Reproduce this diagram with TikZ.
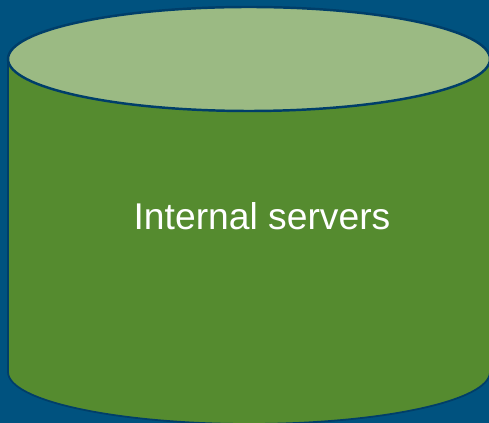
\documentclass[tikz,border=0pt]{standalone}
\usepackage{fontspec}
\setmainfont{Liberation Sans}
\definecolor{bluebg}{RGB}{0,82,127}
\definecolor{blueline}{RGB}{0,62,105}
\definecolor{greenbody}{RGB}{85,139,47}
\definecolor{greentop}{RGB}{155,186,131}
\begin{document}
\begin{tikzpicture}
	\useasboundingbox (0,0) rectangle (9.78,8.46);
	%Hintergrund
	\fill[bluebg] (0,0) rectangle (9.78,8.46);
	%Zylinder
	\draw[blueline,line width=1pt,fill=greenbody] (0.16,7.28) -- (0.16,1.02) arc [start angle=180,end angle=360,x radius=4.82,y radius=1.04] -- (9.8,7.28) -- cycle;
	\draw[blueline,line width=1.4pt,fill=greentop] (4.98,7.28) ellipse [x radius=4.82,y radius=1.04];
	%Beschriftung
	\node[white,font=\fontsize{21.2}{25}\selectfont] (servers) at (5.24,4.14) {Internal servers};
\end{tikzpicture}
\end{document}
